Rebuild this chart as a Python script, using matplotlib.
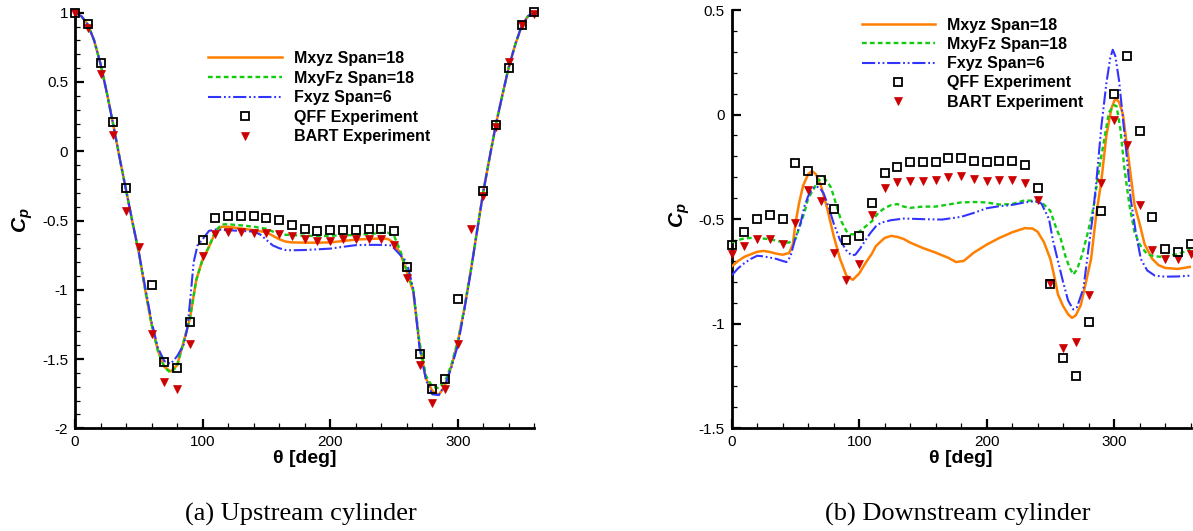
import matplotlib
matplotlib.use("Agg")
import matplotlib.pyplot as plt
from matplotlib.ticker import MultipleLocator, FormatStrFormatter

plt.rcParams['font.family'] = ['Liberation Sans', 'DejaVu Sans']
plt.rcParams['axes.unicode_minus'] = False
plt.rcParams['lines.scale_dashes'] = False
plt.rcParams['mathtext.fontset'] = 'custom'
plt.rcParams['mathtext.it'] = 'Liberation Sans:italic:bold'
plt.rcParams['mathtext.rm'] = 'Liberation Sans:bold'

# ---------------- (a) Upstream cylinder ----------------
up_exp_theta_qff = [0, 10, 20, 30, 40, 60, 70, 80, 90, 100, 110, 120, 130, 140, 150, 160, 170, 180, 190,
                    200, 210, 220, 230, 240, 250, 260, 270, 280, 290, 300, 320, 330, 340, 350, 360]
up_qff = [1.0, 0.92, 0.637, 0.209, -0.269, -0.967, -1.525, -1.564, -1.236, -0.642, -0.479, -0.469, -0.469,
          -0.469, -0.479, -0.498, -0.529, -0.558, -0.577, -0.568, -0.568, -0.568, -0.558, -0.558, -0.577,
          -0.837, -1.465, -1.717, -1.643, -1.066, -0.289, 0.192, 0.599, 0.909, 1.005]

up_exp_theta_bart = [0, 10, 20, 30, 40, 50, 60, 70, 80, 90, 100, 110, 120, 130, 140, 150, 160, 170, 180,
                     190, 200, 210, 220, 230, 240, 250, 260, 270, 280, 290, 300, 310, 320, 330, 340, 350, 360]
up_bart = [0.995, 0.89, 0.56, 0.115, -0.431, -0.69, -1.316, -1.665, -1.713, -1.388, -0.755, -0.594, -0.582,
           -0.582, -0.587, -0.587, -0.594, -0.613, -0.63, -0.645, -0.647, -0.637, -0.637, -0.63, -0.637,
           -0.674, -0.914, -1.544, -1.816, -1.713, -1.395, -0.558, -0.322, 0.176, 0.645, 0.914, 0.994]

up_theta_mxyz = [0, 5, 10, 15, 20, 25, 30, 35, 40, 45, 50, 55, 60, 65, 70, 75, 80, 85, 90, 95, 100, 105,
                 110, 115, 120, 130, 140, 150, 155, 160, 165, 170, 180, 190, 200, 210, 220, 230, 240, 245,
                 250, 255, 260, 265, 270, 275, 280, 285, 290, 295, 300, 305, 310, 315, 320, 325, 330, 335,
                 340, 345, 350, 355, 360]
up_mxyz = [1.0, 0.975, 0.915, 0.80, 0.63, 0.42, 0.19, -0.05, -0.28, -0.51, -0.73, -1.0, -1.25, -1.44,
           -1.556, -1.59, -1.545, -1.38, -1.21, -0.93, -0.78, -0.69, -0.585, -0.545, -0.545, -0.558, -0.57,
           -0.585, -0.61, -0.635, -0.652, -0.658, -0.66, -0.66, -0.658, -0.648, -0.638, -0.633, -0.63,
           -0.633, -0.66, -0.74, -0.87, -1.01, -1.40, -1.64, -1.73, -1.76, -1.69, -1.55, -1.376, -1.14,
           -0.87, -0.58, -0.29, -0.04, 0.2, 0.41, 0.61, 0.77, 0.905, 0.975, 1.0]

up_theta_mxyfz = up_theta_mxyz
up_mxyfz = [1.0, 0.975, 0.915, 0.80, 0.63, 0.42, 0.19, -0.05, -0.28, -0.51, -0.73, -1.0, -1.25, -1.44,
            -1.56, -1.60, -1.55, -1.38, -1.21, -0.93, -0.78, -0.69, -0.575, -0.528, -0.527, -0.535, -0.545,
            -0.56, -0.58, -0.598, -0.603, -0.605, -0.61, -0.612, -0.61, -0.607, -0.604, -0.598, -0.59,
            -0.588, -0.61, -0.72, -0.86, -1.0, -1.38, -1.62, -1.70, -1.71, -1.66, -1.54, -1.37, -1.14,
            -0.87, -0.58, -0.29, -0.04, 0.2, 0.41, 0.61, 0.77, 0.905, 0.975, 1.0]

up_theta_fxyz = [0, 5, 10, 15, 20, 25, 30, 35, 40, 45, 50, 55, 60, 65, 70, 75, 80, 85, 88, 90, 93, 96,
                 100, 105, 110, 115, 120, 130, 140, 145, 150, 155, 160, 165, 170, 180, 190, 200, 210, 220,
                 230, 240, 248, 255, 260, 265, 270, 275, 280, 285, 290, 295, 300, 305, 310, 315, 320, 325,
                 330, 335, 340, 345, 350, 355, 360]
up_fxyz = [1.0, 0.975, 0.915, 0.80, 0.63, 0.42, 0.19, -0.05, -0.28, -0.51, -0.73, -0.98, -1.23, -1.42,
           -1.515, -1.535, -1.48, -1.40, -1.28, -1.10, -0.80, -0.68, -0.635, -0.575, -0.565, -0.568, -0.57,
           -0.575, -0.58, -0.6, -0.64, -0.68, -0.70, -0.713, -0.715, -0.713, -0.708, -0.703, -0.69, -0.678,
           -0.676, -0.676, -0.68, -0.75, -0.80, -0.99, -1.42, -1.65, -1.755, -1.76, -1.69, -1.56, -1.40,
           -1.15, -0.88, -0.58, -0.29, -0.04, 0.2, 0.41, 0.61, 0.77, 0.905, 0.975, 1.0]

# ---------------- (b) Downstream cylinder ----------------
dn_exp_theta = list(range(0, 361, 10))
dn_qff = [-0.622, -0.561, -0.50, -0.482, -0.50, -0.23, -0.27, -0.311, -0.451, -0.60, -0.58, -0.421, -0.28,
          -0.25, -0.228, -0.228, -0.228, -0.21, -0.21, -0.22, -0.228, -0.22, -0.22, -0.24, -0.351, -0.81,
          -1.162, -1.251, -0.991, -0.459, 0.10, 0.282, -0.08, -0.489, -0.641, -0.658, -0.62]
dn_bart = [-0.665, -0.626, -0.594, -0.596, -0.617, -0.52, -0.359, -0.415, -0.66, -0.79, -0.716, -0.48,
           -0.352, -0.322, -0.316, -0.316, -0.311, -0.30, -0.296, -0.308, -0.316, -0.313, -0.313, -0.327,
           -0.41, -0.805, -1.116, -1.088, -0.863, -0.327, -0.025, -0.145, -0.433, -0.647, -0.692, -0.692,
           -0.667]

dn_theta_mxyz = [0, 5, 10, 15, 20, 25, 30, 35, 40, 45, 48, 50, 53, 56, 60, 63, 66, 70, 75, 80, 85, 90, 95,
                 100, 105, 110, 113, 116, 120, 125, 130, 135, 140, 150, 160, 170, 176, 182, 190, 200, 210,
                 220, 230, 236, 240, 245, 250, 253, 256, 260, 264, 267, 270, 274, 278, 282, 286, 290, 294,
                 298, 301, 304, 307, 311, 316, 320, 324, 330, 335, 340, 350, 360]
dn_mxyz = [-0.726, -0.70, -0.68, -0.668, -0.656, -0.652, -0.657, -0.665, -0.670, -0.662, -0.62, -0.52,
           -0.42, -0.34, -0.285, -0.27, -0.285, -0.34, -0.45, -0.58, -0.69, -0.77, -0.79, -0.76, -0.71,
           -0.665, -0.63, -0.612, -0.59, -0.58, -0.585, -0.595, -0.612, -0.638, -0.66, -0.685, -0.705,
           -0.70, -0.66, -0.622, -0.59, -0.563, -0.543, -0.545, -0.56, -0.61, -0.69, -0.77, -0.86, -0.915,
           -0.955, -0.972, -0.96, -0.91, -0.80, -0.69, -0.48, -0.32, -0.10, 0.03, 0.078, 0.06, 0.0, -0.19,
           -0.43, -0.52, -0.62, -0.69, -0.72, -0.733, -0.738, -0.728]

dn_theta_mxyfz = [0, 5, 10, 15, 20, 25, 30, 35, 40, 45, 50, 53, 57, 60, 64, 68, 72, 75, 78, 82, 86, 90,
                  93, 96, 100, 105, 110, 115, 120, 125, 130, 135, 140, 150, 160, 170, 180, 190, 200, 210,
                  220, 230, 240, 245, 250, 255, 258, 262, 265, 268, 271, 275, 280, 284, 288, 292, 296, 300,
                  302, 305, 308, 312, 316, 320, 326, 330, 336, 342, 350, 360]
dn_mxyfz = [-0.611, -0.60, -0.592, -0.59, -0.59, -0.593, -0.596, -0.603, -0.61, -0.612, -0.595, -0.54,
            -0.47, -0.40, -0.36, -0.315, -0.303, -0.32, -0.35, -0.43, -0.51, -0.557, -0.572, -0.572, -0.56,
            -0.535, -0.51, -0.47, -0.447, -0.433, -0.428, -0.44, -0.446, -0.44, -0.44, -0.43, -0.42,
            -0.418, -0.42, -0.43, -0.428, -0.41, -0.414, -0.43, -0.46, -0.55, -0.59, -0.68, -0.73, -0.765,
            -0.74, -0.67, -0.55, -0.44, -0.27, -0.13, 0.01, 0.045, 0.04, -0.07, -0.25, -0.43, -0.56, -0.62,
            -0.668, -0.675, -0.68, -0.676, -0.667, -0.645]

dn_theta_fxyz = [0, 5, 10, 15, 20, 25, 30, 35, 40, 43, 46, 50, 54, 57, 60, 63, 66, 69, 72, 76, 80, 85, 90,
                 94, 97, 101, 105, 109, 113, 117, 125, 135, 150, 165, 180, 190, 200, 210, 220, 230, 238,
                 243, 245, 249, 252, 256, 260, 264, 268, 271, 276, 280, 283, 286, 290, 294, 297, 299, 301,
                 304, 307, 310, 313, 317, 321, 326, 332, 340, 350, 360]
dn_fxyz = [-0.769, -0.735, -0.71, -0.69, -0.675, -0.678, -0.684, -0.69, -0.70, -0.705, -0.68, -0.59,
           -0.52, -0.44, -0.39, -0.355, -0.343, -0.35, -0.375, -0.44, -0.52, -0.60, -0.65, -0.673, -0.67,
           -0.638, -0.60, -0.565, -0.535, -0.517, -0.505, -0.497, -0.50, -0.502, -0.489, -0.47, -0.448,
           -0.438, -0.432, -0.42, -0.414, -0.425, -0.45, -0.50, -0.60, -0.70, -0.80, -0.89, -0.932, -0.92,
           -0.83, -0.64, -0.50, -0.33, -0.06, 0.15, 0.27, 0.31, 0.28, 0.16, -0.02, -0.2, -0.40, -0.56,
           -0.69, -0.745, -0.77, -0.775, -0.774, -0.77]

labels = ["Mxyz Span=18", "MxyFz Span=18", "Fxyz Span=6", "QFF Experiment", "BART Experiment"]

C_ORANGE = '#FF8000'
C_GREEN = '#11CC11'
C_BLUE = '#3333FF'
C_RED = '#CC0000'

fig = plt.figure(figsize=(11.93, 5.31), dpi=100)
ax1 = fig.add_axes([75 / 1193, 1 - 428.3 / 531, 459.4 / 1193, 415.6 / 531])
ax2 = fig.add_axes([731.7 / 1193, 1 - 428.3 / 531, 458.8 / 1193, 418.3 / 531])


def draw(ax, t1, y1, t2, y2, t3, y3, tq, yq, tb, yb):
    h1, = ax.plot(t1, y1, color=C_ORANGE, lw=1.8, ls='-', zorder=3)
    h2, = ax.plot(t2, y2, color=C_GREEN, lw=1.7, ls=(0, (3.4, 2.3)), zorder=3)
    h3, = ax.plot(t3, y3, color=C_BLUE, lw=1.5, ls=(0, (9.5, 2.0, 1.3, 2.0, 1.3, 2.0)), zorder=3)
    h4, = ax.plot(tq, yq, ls='none', marker='s', ms=5.6, mfc='none', mec='black', mew=1.3,
                  clip_on=False, zorder=5)
    h5, = ax.plot(tb, yb, ls='none', marker='v', ms=6.3, mfc=C_RED, mec=C_RED, mew=0.5,
                  clip_on=False, zorder=4)
    return [h1, h2, h3, h4, h5]


hs1 = draw(ax1, up_theta_mxyz, up_mxyz, up_theta_mxyfz, up_mxyfz, up_theta_fxyz, up_fxyz,
           up_exp_theta_qff, up_qff, up_exp_theta_bart, up_bart)
hs2 = draw(ax2, dn_theta_mxyz, dn_mxyz, dn_theta_mxyfz, dn_mxyfz, dn_theta_fxyz, dn_fxyz,
           dn_exp_theta, dn_qff, dn_exp_theta, dn_bart)

ax1.set_xlim(0, 360)
ax1.set_ylim(-2, 1)
ax2.set_xlim(0, 360)
ax2.set_ylim(-1.5, 0.5)

for ax in (ax1, ax2):
    for s in ('top', 'right'):
        ax.spines[s].set_visible(False)
    for s in ('left', 'bottom'):
        ax.spines[s].set_linewidth(2.0)
    ax.xaxis.set_major_locator(MultipleLocator(100))
    ax.xaxis.set_minor_locator(MultipleLocator(20))
    ax.yaxis.set_major_locator(MultipleLocator(0.5))
    ax.yaxis.set_minor_locator(MultipleLocator(0.1))
    ax.yaxis.set_major_formatter(FormatStrFormatter('%g'))
    ax.tick_params(which='major', direction='in', length=6.5, width=1.6, labelsize=11, pad=4.5)
    ax.tick_params(which='minor', direction='in', length=3.8, width=0.9)
    ax.tick_params(axis='y', which='major', pad=5)
    ax.set_xlabel('θ [deg]', fontsize=14, fontweight='bold')
    ax.xaxis.set_label_coords(0.5, -0.052)
    ax.set_ylabel(r'$C_p$', fontsize=15)

ax1.yaxis.set_label_coords(-0.086, 0.5)
ax2.yaxis.set_label_coords(-0.086, 0.51)

ax1.legend(hs1, labels, loc='upper left', bbox_to_anchor=(0.29, 0.908), frameon=False,
           borderpad=0, borderaxespad=0, handlelength=4.6, handletextpad=0.75, labelspacing=0.29,
           numpoints=1, prop={'weight': 'bold', 'size': 11.5})
ax2.legend(hs2, labels, loc='upper left', bbox_to_anchor=(0.2833, 0.982), frameon=False,
           borderpad=0, borderaxespad=0, handlelength=4.6, handletextpad=0.75, labelspacing=0.27,
           numpoints=1, prop={'weight': 'bold', 'size': 11.5})

fig.text(300.8 / 1193, 1 - 514 / 531, '(a) Upstream cylinder', ha='center', va='center',
         fontsize=19, family='Liberation Serif')
fig.text(957.5 / 1193, 1 - 514 / 531, '(b) Downstream cylinder', ha='center', va='center',
         fontsize=19, family='Liberation Serif')

fig.savefig('out.png', dpi=100)
